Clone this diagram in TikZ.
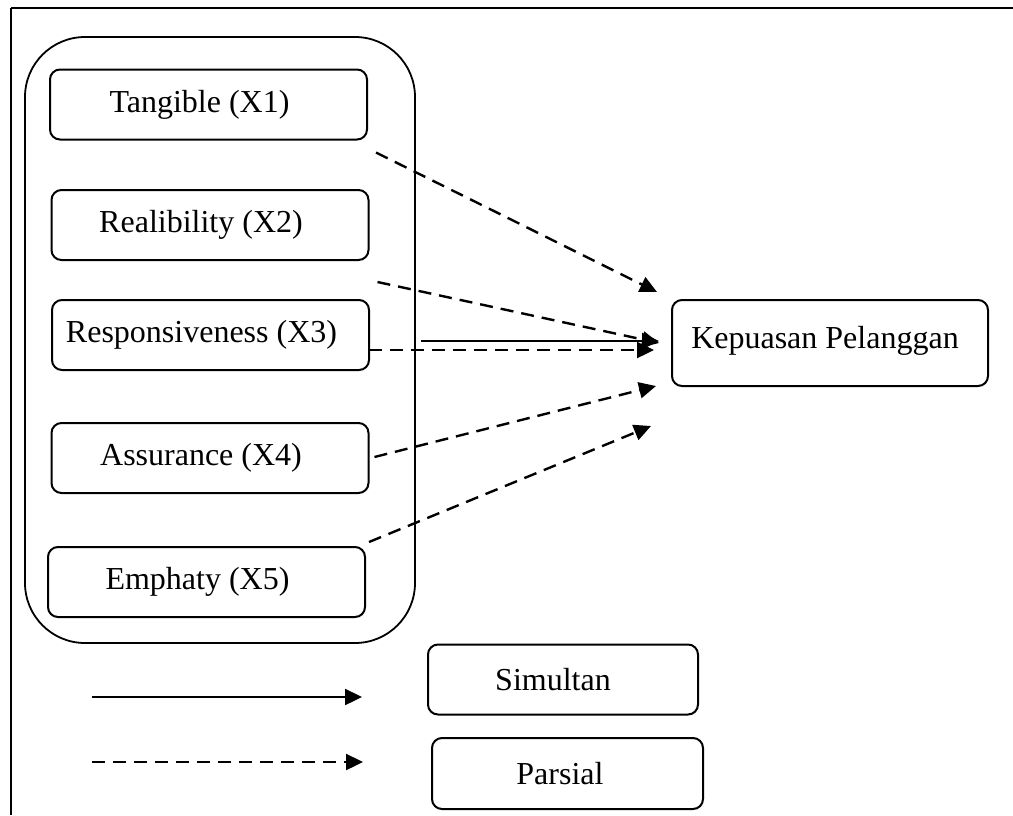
\documentclass[tikz,border=0pt]{standalone}
\usepackage{fontspec}
\setmainfont{Liberation Serif}
\usetikzlibrary{arrows.meta}

\begin{document}
\begin{tikzpicture}[x=1pt,y=-1pt,
  var/.style={draw, line width=2pt, rounded corners=10pt, inner sep=0pt,
    minimum width=317pt, minimum height=70pt, font=\fontsize{32}{36}\selectfont,
    execute at end node=\hspace*{#1}},
  var/.default=18pt,
  simul/.style={line width=2.4pt, -{Triangle[length=17pt,width=16pt]}},
  parsial/.style={simul, dash pattern=on 13pt off 8pt}]
  \useasboundingbox (0,0) rectangle (1013,815);
  \draw[line width=2.5pt] (11,8) -- (1013,8);
  \draw[line width=1.5pt] (11,8) -- (11,815);

  \draw[line width=1.8pt, rounded corners=60pt] (25,37) rectangle (415,643);

  \node[var] (x1) at (208.5,104.5) {Tangible (X1)};
  \node[var] (x2) at (210,225) {Realibility (X2)};
  \node[var] (x3) at (210.5,335) {Responsiveness (X3)};
  \node[var] (x4) at (210,458) {Assurance (X4)};
  \node[var] (x5) at (206.5,582) {Emphaty (X5)};

  \node[var=10pt, minimum width=316pt, minimum height=86pt]
    (kp) at (830,343) {\raisebox{12pt}{Kepuasan Pelanggan}};

  \draw[parsial] ([shift={(8,12)}]x1.south east) -- ([shift={(-14,-7)}]kp.north west);
  \draw[parsial] ([shift={(8,21)}]x2.south east) -- ([shift={(-12,0)}]kp.west);
  \draw[simul] ([shift={(51,6)}]x3.east) -- ([shift={(-12,-2)}]kp.west);
  \draw[parsial] ([shift={(-1,15)}]x3.east) -- ([shift={(-17,7)}]kp.west);
  \draw[parsial] ([shift={(5,-1)}]x4.east) -- ([shift={(-15,-1)}]kp.south west);
  \draw[parsial] ([shift={(3,-4)}]x5.north east) -- ([shift={(-20,39)}]kp.south west);

  \node[var=20pt, minimum width=270pt] (sim) at (563,679.5) {Simultan};
  \node[var=15pt, minimum width=271pt, minimum height=71pt] (par) at (567.5,773.5) {Parsial};

  \coordinate (s1) at (92,697);
  \coordinate (s2) at (362,697);
  \coordinate (p1) at (92,762);
  \coordinate (p2) at (363,762);
  \draw[simul] (s1) -- (s2);
  \draw[parsial] (p1) -- (p2);
\end{tikzpicture}
\end{document}
